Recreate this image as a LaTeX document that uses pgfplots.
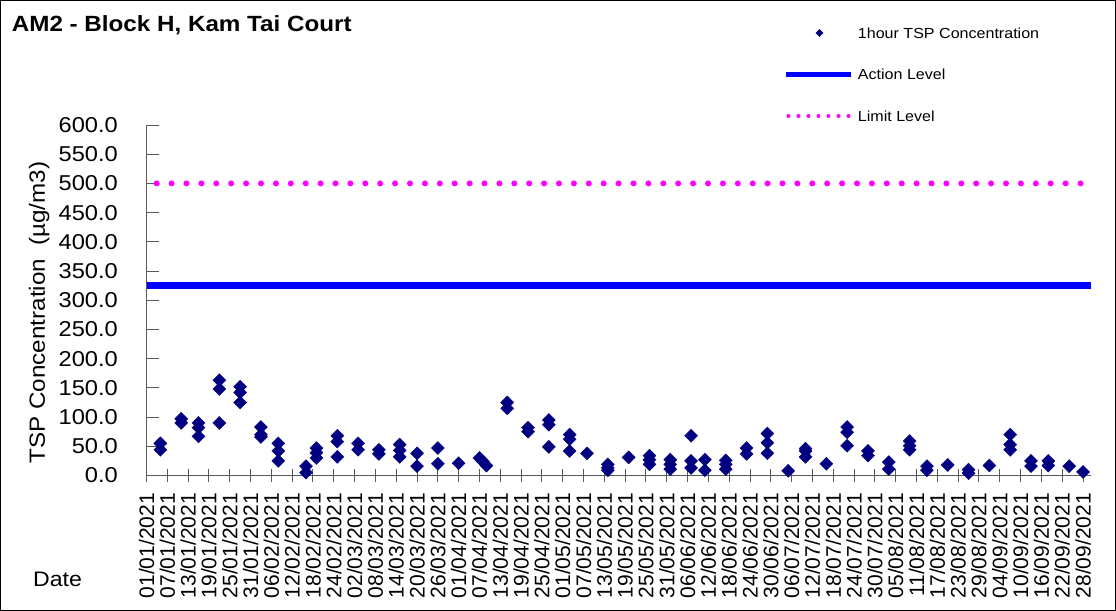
\documentclass[border=0pt]{standalone}
\usepackage{fontspec}
\setmainfont{Liberation Sans}
\newfontfamily\wide{Liberation Sans}[FakeStretch=1.1]
\usepackage{pgfplots}
\pgfplotsset{compat=1.18}
\definecolor{navyc}{RGB}{0,0,128}
\definecolor{actblue}{RGB}{0,0,255}
\definecolor{limmag}{RGB}{255,0,255}
\begin{document}
\begin{tikzpicture}
\useasboundingbox (0bp,0bp) rectangle (1116bp,611bp);
\draw[line width=1bp] (0.5bp,0.5bp) rectangle (1115.5bp,610.5bp);
\node[anchor=base west, inner sep=0pt, font=\wide\bfseries\fontsize{22bp}{26bp}\selectfont] at (11.7bp,579.3bp) {AM2 - Block H, Kam Tai Court};
\node[anchor=base west, inner sep=0pt, font=\wide\fontsize{21bp}{24bp}\selectfont] at (33bp,24.3bp) {Date};
\begin{axis}[
  at={(146.5bp,135.5bp)}, anchor=south west,
  scale only axis, width=944.5bp, height=350.5bp,
  xmin=0, xmax=272.3, ymin=0, ymax=600,
  clip=false,
  axis x line*=bottom, axis y line*=left,
  axis line style={black!65, line width=1bp},
  tick style={black!65, line width=1bp},
  tick align=inside, major tick length=12bp,
  xtick style={yshift=-6bp},
  xtick={0,6,...,270},
  xticklabels={01/01/2021,07/01/2021,13/01/2021,19/01/2021,25/01/2021,31/01/2021,06/02/2021,12/02/2021,18/02/2021,24/02/2021,02/03/2021,08/03/2021,14/03/2021,20/03/2021,26/03/2021,01/04/2021,07/04/2021,13/04/2021,19/04/2021,25/04/2021,01/05/2021,07/05/2021,13/05/2021,19/05/2021,25/05/2021,31/05/2021,06/06/2021,12/06/2021,18/06/2021,24/06/2021,30/06/2021,06/07/2021,12/07/2021,18/07/2021,24/07/2021,30/07/2021,05/08/2021,11/08/2021,17/08/2021,23/08/2021,29/08/2021,04/09/2021,10/09/2021,16/09/2021,22/09/2021,28/09/2021},
  xticklabel style={rotate=90, anchor=east, inner sep=0pt, font=\fontsize{21bp}{24bp}\selectfont},
  xticklabel shift=17.5bp,
  ytick={0,50,...,600},
  /pgf/number format/assume math mode=true,
  yticklabel style={/pgf/number format/.cd, fixed, fixed zerofill, precision=1, /tikz/.cd, anchor=east, inner sep=0pt, font=\wide\fontsize{21.5bp}{24bp}\selectfont},
  yticklabel shift=28.5bp,
  ylabel={TSP Concentration~ (µg/m3)},
  ylabel style={at={(axis description cs:-0.1075,0.465)}, anchor=base, inner sep=0pt, font=\wide\fontsize{22bp}{26bp}\selectfont},
  legend cell align=left,
  legend style={at={(axis description cs:0.6749,1.1441)}, anchor=west, draw=none, fill=none, inner sep=0pt, outer sep=0pt, row sep=30.5bp, column sep=4bp, font=\wide\fontsize{14.6bp}{18bp}\selectfont, nodes={inner sep=0pt, text height=11bp, text depth=0bp}},
]
\addplot[only marks, mark=square*, mark size=4.6bp, mark options={rotate=45, fill=navyc, draw=navyc},
  legend image code/.code={\path[draw=none, fill=none] (0bp,0bp) -- (65bp,0bp); \fill[navyc] (33bp,3.6bp) -- (36.6bp,0bp) -- (33bp,-3.6bp) -- (29.4bp,0bp) -- cycle;}]
coordinates {
(4,55)(4,44)
(10,97)(10,90)
(15,90)(15,82)(15,67)
(21,163)(21,148)(21,90)
(27,152)(27,142)(27,125)
(33,83)(33,70)(33,66)
(38,55)(38,42)(38,25)
(46,16)(46,5)
(49,47)(49,39)(49,30)
(55,68)(55,58)(55,32)
(61,55)(61,44)
(67,44)(67,37)
(73,53)(73,43)(73,32)
(78,38)(78,16)
(84,47)(84,20)
(90,21)
(96,30)(97,24)(98,17)
(104,125)(104,115)
(110,82)(110,75)
(116,95)(116,87)(116,49)
(122,70)(122,62)(122,42)
(127,38)
(133,19)(133,13)(133,9)
(139,31)
(145,34)(145,27)(145,19)
(151,27)(151,19)(151,11)
(157,68)(157,25)(157,13)
(161,27)(161,9)
(167,26)(167,19)(167,11)
(173,47)(173,37)
(179,72)(179,56)(179,38)
(185,8)
(190,46)(190,42)(190,32)
(196,20)
(202,83)(202,74)(202,51)
(208,42)(208,34)
(214,23)(214,11)
(220,59)(220,51)(220,44)
(225,16)(225,9)
(231,18)
(237,10)(237,4)
(243,17)
(249,70)(249,53)(249,44)
(255,25)(255,16)
(260,25)(260,17)
(266,16)
(270,6)
};
\addlegendentry{1hour TSP Concentration}
\addplot[actblue, line width=6.5bp,
  legend image code/.code={\draw[actblue, line width=5bp, line cap=butt] (0bp,0bp) -- (65bp,0bp);}]
coordinates {(0,325) (272.3,325)};
\addlegendentry{Action Level}
\addplot[limmag, line width=6bp, line cap=round, dash pattern=on 0bp off 14.9bp, dash phase=4.7bp,
  legend image code/.code={\path[draw=none, fill=none] (0bp,0bp) -- (65bp,0bp); \draw[limmag, line width=4bp, line cap=round, dash pattern=on 0bp off 10bp, dash phase=0bp] (2bp,0bp) -- (63bp,0bp);}]
coordinates {(0,500) (272.3,500)};
\addlegendentry{Limit Level}
\end{axis}
\end{tikzpicture}
\end{document}
